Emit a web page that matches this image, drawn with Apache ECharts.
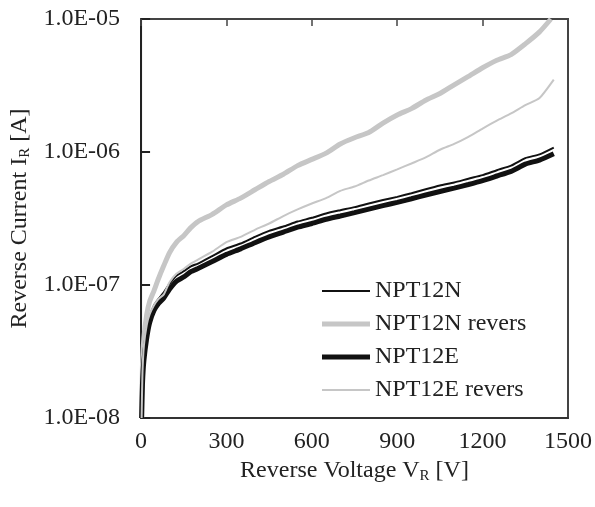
<!DOCTYPE html>
<html>
<head>
<meta charset="utf-8">
<script src="https://cdn.jsdelivr.net/npm/echarts@6/dist/echarts.min.js"></script>
<style>
  html, body { margin: 0; padding: 0; background: #fff; }
  #chart { width: 595px; height: 507px; }
</style>
</head>
<body>
<div id="chart"></div>
<script>
// reverse voltage [V]
const voltage = [2, 5, 10, 20, 30, 45, 60, 80, 100, 125, 150, 175, 200, 250, 300, 350, 400, 450, 500,
  550, 600, 650, 700, 750, 800, 850, 900, 950, 1000, 1050, 1100, 1150, 1200, 1250, 1300, 1350, 1400, 1450]
const voltageNRev = [2, 5, 10, 20, 30, 45, 60, 80, 100, 125, 150, 175, 200, 250, 300, 350, 400, 450, 500,
  550, 600, 650, 700, 750, 800, 850, 900, 950, 1000, 1050, 1100, 1150, 1200, 1250, 1300, 1350, 1400, 1440]

// reverse current [A]
const npt12n = [1e-8, 2.0e-8, 3.0e-8, 4.5e-8, 5.8e-8, 7.0e-8, 7.8e-8, 8.8e-8, 1.02e-7, 1.18e-7, 1.27e-7, 1.38e-7,
  1.45e-7, 1.65e-7, 1.88e-7, 2.05e-7, 2.3e-7, 2.55e-7, 2.75e-7, 3.0e-7, 3.2e-7, 3.45e-7, 3.65e-7, 3.85e-7,
  4.1e-7, 4.35e-7, 4.6e-7, 4.9e-7, 5.25e-7, 5.6e-7, 5.9e-7, 6.3e-7, 6.7e-7, 7.3e-7, 7.9e-7, 9.0e-7, 9.6e-7, 1.08e-6]
const npt12nRev = [1e-8, 2.5e-8, 4.0e-8, 6.0e-8, 7.5e-8, 9.0e-8, 1.1e-7, 1.4e-7, 1.75e-7, 2.1e-7, 2.35e-7, 2.7e-7,
  3.0e-7, 3.4e-7, 4.0e-7, 4.5e-7, 5.2e-7, 6.0e-7, 6.8e-7, 7.9e-7, 8.8e-7, 9.8e-7, 1.15e-6, 1.28e-6,
  1.4e-6, 1.65e-6, 1.9e-6, 2.12e-6, 2.45e-6, 2.75e-6, 3.2e-6, 3.7e-6, 4.3e-6, 4.9e-6, 5.4e-6, 6.5e-6, 8.0e-6, 1.0e-5]
const npt12e = [1e-8, 1.8e-8, 2.7e-8, 4.0e-8, 5.2e-8, 6.4e-8, 7.2e-8, 8.0e-8, 9.3e-8, 1.07e-7, 1.15e-7, 1.26e-7,
  1.33e-7, 1.5e-7, 1.7e-7, 1.87e-7, 2.08e-7, 2.3e-7, 2.5e-7, 2.72e-7, 2.9e-7, 3.12e-7, 3.3e-7, 3.5e-7,
  3.72e-7, 3.95e-7, 4.18e-7, 4.45e-7, 4.75e-7, 5.05e-7, 5.35e-7, 5.7e-7, 6.1e-7, 6.6e-7, 7.15e-7, 8.1e-7, 8.7e-7, 9.7e-7]
const npt12eRev = [1e-8, 2.2e-8, 3.5e-8, 5.0e-8, 6.0e-8, 7.0e-8, 7.8e-8, 8.5e-8, 1.05e-7, 1.22e-7, 1.32e-7, 1.45e-7,
  1.55e-7, 1.78e-7, 2.1e-7, 2.3e-7, 2.6e-7, 2.9e-7, 3.3e-7, 3.7e-7, 4.1e-7, 4.5e-7, 5.1e-7, 5.5e-7,
  6.1e-7, 6.7e-7, 7.4e-7, 8.2e-7, 9.1e-7, 1.04e-6, 1.15e-6, 1.3e-6, 1.5e-6, 1.72e-6, 1.95e-6, 2.25e-6, 2.55e-6, 3.5e-6]

const yTickLabels = { '-8': '1.0E-08', '-7': '1.0E-07', '-6': '1.0E-06', '-5': '1.0E-05' }

const font = "'Liberation Serif', 'Times New Roman', serif"
const pair = (xs, ys) => xs.map((x, i) => [x, ys[i]])

const chart = echarts.init(document.getElementById('chart'))

function line(name, xs, ys, color, width) {
  return {
    name,
    type: 'line',
    data: pair(xs, ys),
    showSymbol: false,
    symbol: 'none',
    smooth: 0.2,
    color,
    itemStyle: { color },
    lineStyle: { color, width },
    emphasis: { disabled: true },
    animation: false
  }
}

chart.setOption({
  backgroundColor: '#fff',
  grid: {
    left: 141, top: 19, right: 25, bottom: 89,
    show: true, borderColor: '#444', borderWidth: 2
  },
  legend: {
    orient: 'vertical',
    left: 317,
    top: 274,
    itemWidth: 48,
    itemHeight: 14,
    itemGap: 9,
    textStyle: { fontFamily: font, fontSize: 24, color: '#222' },
    data: [
      { name: 'NPT12N', icon: 'path://M0,0h48v2h-48z', itemStyle: { color: '#111' } },
      { name: 'NPT12N revers', icon: 'path://M0,0h48v5h-48z', itemStyle: { color: '#c6c6c6' } },
      { name: 'NPT12E', icon: 'path://M0,0h48v5h-48z', itemStyle: { color: '#111' } },
      { name: 'NPT12E revers', icon: 'path://M0,0h48v2h-48z', itemStyle: { color: '#c6c6c6' } }
    ]
  },
  xAxis: [
    {
      type: 'value',
      position: 'bottom',
      min: 0, max: 1500, interval: 300,
      name: 'Reverse Voltage V{sub|R} [V]',
      nameLocation: 'middle',
      nameGap: 38,
      nameTextStyle: {
        fontFamily: font, fontSize: 24, color: '#222',
        rich: { sub: { fontFamily: font, fontSize: 15, color: '#222', padding: [10, 0, 0, 0] } }
      },
      axisLine: { show: true, lineStyle: { color: '#333', width: 2 } },
      axisTick: { show: false },
      axisLabel: { fontFamily: font, fontSize: 24, color: '#222', margin: 12, formatter: v => String(v) },
      splitLine: { show: false }
    },
    {
      type: 'value',
      position: 'top',
      min: 0, max: 1500, interval: 300,
      axisLine: { show: true, lineStyle: { color: '#444', width: 2 } },
      axisTick: { show: true, inside: true, length: 7, lineStyle: { color: '#444', width: 1.5 } },
      axisLabel: { show: false },
      splitLine: { show: false }
    }
  ],
  yAxis: {
    type: 'log',
    logBase: 10,
    min: 1e-8, max: 1e-5,
    name: 'Reverse Current I{sub|R} [A]',
    nameLocation: 'middle',
    nameRotate: 90,
    nameGap: 104,
    nameTextStyle: {
      fontFamily: font, fontSize: 24, color: '#222',
      rich: { sub: { fontFamily: font, fontSize: 15, color: '#222', padding: [10, 0, 0, 0] } }
    },
    axisLine: { show: true, lineStyle: { color: '#222', width: 2 } },
    axisTick: { show: true, inside: true, length: 9, lineStyle: { color: '#222', width: 2 } },
    axisLabel: {
      fontFamily: font, fontSize: 24, color: '#222', margin: 21,
      formatter: v => yTickLabels[String(Math.round(Math.log10(v)))] || ''
    },
    splitLine: { show: false }
  },
  series: [
    line('NPT12N', voltage, npt12n, '#111', 2),
    line('NPT12N revers', voltageNRev, npt12nRev, '#c6c6c6', 5),
    line('NPT12E', voltage, npt12e, '#111', 5),
    line('NPT12E revers', voltage, npt12eRev, '#c6c6c6', 2)
  ]
})
</script>
</body>
</html>
